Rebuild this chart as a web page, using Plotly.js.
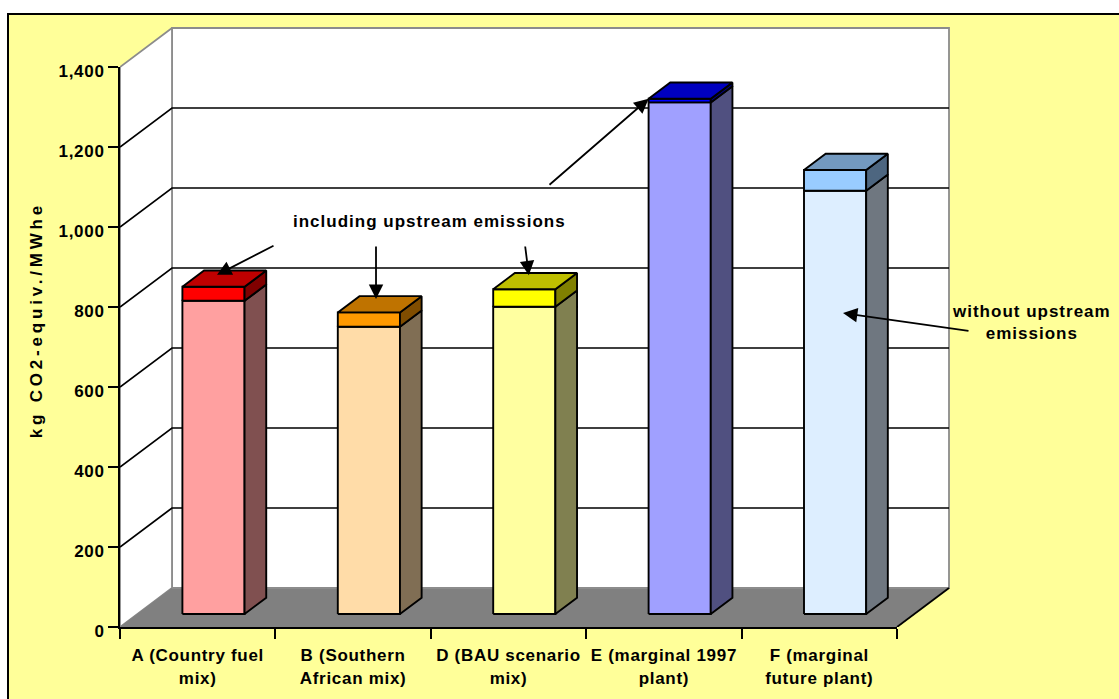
<!DOCTYPE html>
<html>
<head>
<meta charset="utf-8">
<script src="https://cdn.plot.ly/plotly-3.0.1.min.js"></script>
<style>
  html, body { margin: 0; padding: 0; background: #ffffff; }
  #chart { width: 1119px; height: 699px; }
  #chart .xtick text, #chart .ytick text { letter-spacing: 0.7px; }
  #chart .annotation text { letter-spacing: 1px; }
  #chart .annotation[data-index="0"] text { letter-spacing: 3.8px; }
</style>
</head>
<body>
<div id="chart"></div>
<script>
// Emission factors per scenario, kg CO2-equiv./MWhe
const categories = [
  'A (Country fuel<br>mix)',
  'B (Southern<br>African mix)',
  'D (BAU scenario<br>mix)',
  'E (marginal 1997<br>plant)',
  'F (marginal<br>future plant)'
];
const withoutUpstream = [783, 718, 768, 1279, 1058];
const upstreamPart = [35, 36, 44, 9, 52];
const yTickValues = [0, 200, 400, 600, 800, 1000, 1200, 1400];

// Face colours (front) of the two stacked segments
const baseColors = ['#FFA0A0', '#FFDCA8', '#FFFFA0', '#A0A0FF', '#DDEEFF'];
const upstreamColors = ['#FF0000', '#FF9900', '#FFFF00', '#0000FF', '#99CCFF'];

// ---- pseudo-3D frame ----
const W = 1119, H = 699;
const M = { l: 120, r: 159, t: 20, b: 72 };
const plotW = W - M.l - M.r, plotH = H - M.t - M.b;
const PX_PER_CAT = 155.4;          // horizontal size of one category slot
const PX_PER_UNIT = 0.4;           // vertical px per kg
const Y_MAX = 1400;
const N = categories.length;
const DX = 52 / PX_PER_CAT;        // floor depth, in category units
const DY = 39 / PX_PER_UNIT;       // floor depth, in value units
const D0 = 1 / 3, D1 = 0.75;       // depth span of the columns
const BL = 0.29, BR = 0.69;        // column front face inside its slot

const X2_MAX = plotW / PX_PER_CAT;
const Y2_MAX = plotH / PX_PER_UNIT;

function P(x, y, d) { return [x + d * DX, y + d * DY]; }
function fromPx(px, py) { return [(px - M.l) / PX_PER_CAT, (H - M.b - py) / PX_PER_UNIT]; }
function paperPx(px, py) { return [(px - M.l) / plotW, (H - M.b - py) / plotH]; }

function shade(hex, f) {
  const n = parseInt(hex.slice(1), 16);
  const r = Math.round(((n >> 16) & 255) * f);
  const g = Math.round(((n >> 8) & 255) * f);
  const b = Math.round((n & 255) * f);
  return 'rgb(' + r + ',' + g + ',' + b + ')';
}

const traces = [];
function face(pts, fill, lineColor, lineWidth) {
  traces.push({
    type: 'scatter', mode: 'lines', xaxis: 'x2', yaxis: 'y2',
    x: pts.map(p => p[0]).concat([pts[0][0]]),
    y: pts.map(p => p[1]).concat([pts[0][1]]),
    fill: 'toself', fillcolor: fill,
    line: { color: lineColor, width: lineWidth },
    hoverinfo: 'skip', showlegend: false
  });
}
function polyline(segments, color, width) {
  const xs = [], ys = [];
  segments.forEach(seg => {
    seg.forEach(p => { xs.push(p[0]); ys.push(p[1]); });
    xs.push(null); ys.push(null);
  });
  traces.push({
    type: 'scatter', mode: 'lines', xaxis: 'x2', yaxis: 'y2',
    x: xs, y: ys, line: { color: color, width: width },
    hoverinfo: 'skip', showlegend: false, connectgaps: false
  });
}

const WALL_EDGE = '#8C8C8C';
// back wall and side wall
face([P(0, 0, 1), P(N, 0, 1), P(N, Y_MAX, 1), P(0, Y_MAX, 1)], '#FFFFFF', WALL_EDGE, 1.8);
face([P(0, 0, 0), P(0, 0, 1), P(0, Y_MAX, 1), P(0, Y_MAX, 0)], '#FFFFFF', WALL_EDGE, 1.8);
// floor
face([P(0, 0, 0), P(N, 0, 0), P(N, 0, 1), P(0, 0, 1)], '#808080', '#808080', 0.5);
polyline([[P(0, 0, 1), P(N, 0, 1)]], WALL_EDGE, 1.8);
polyline([[P(N, 0, 0), P(N, 0, 1)]], '#000000', 1.8);
// gridlines on the side wall and the back wall
polyline(yTickValues.filter(v => v > 0 && v < Y_MAX)
  .map(v => [P(0, v, 0), P(0, v, 1), P(N, v, 1)]), '#000000', 1.7);

// columns: lower segment without upstream, upper segment upstream part
const OUT = '#000000', OUTW = 1.9;
for (let i = 0; i < N; i++) {
  const x0 = i + BL, x1 = i + BR;
  const v1 = withoutUpstream[i];
  const v2 = withoutUpstream[i] + upstreamPart[i];
  const cb = baseColors[i], cu = upstreamColors[i];
  face([P(x0, 0, D0), P(x1, 0, D0), P(x1, v1, D0), P(x0, v1, D0)], cb, OUT, OUTW);
  face([P(x1, 0, D0), P(x1, 0, D1), P(x1, v1, D1), P(x1, v1, D0)], shade(cb, 0.5), OUT, OUTW);
  face([P(x0, v1, D0), P(x1, v1, D0), P(x1, v2, D0), P(x0, v2, D0)], cu, OUT, OUTW);
  face([P(x1, v1, D0), P(x1, v1, D1), P(x1, v2, D1), P(x1, v2, D0)], shade(cu, 0.5), OUT, OUTW);
  face([P(x0, v2, D0), P(x1, v2, D0), P(x1, v2, D1), P(x0, v2, D1)], shade(cu, 0.75), OUT, OUTW);
}

// carrier for the labelled axes
traces.push({
  type: 'scatter', mode: 'markers', x: [0], y: [0], xaxis: 'x', yaxis: 'y',
  marker: { opacity: 0 }, hoverinfo: 'skip', showlegend: false
});

const FONT = { family: 'Arial, "Liberation Sans", sans-serif', color: '#000000', weight: 'bold' };

// arrows pointing at the column tops (upstream part) and into column F
function topPoint(i, lx, d) {
  const v = withoutUpstream[i] + upstreamPart[i];
  return P(i + lx, v, d);
}
function arrow(head, tailPx) {
  const t = fromPx(tailPx[0], tailPx[1]);
  return {
    x: head[0], y: head[1], xref: 'x2', yref: 'y2',
    ax: t[0], ay: t[1], axref: 'x2', ayref: 'y2',
    text: '', showarrow: true, arrowhead: 2, arrowsize: 1.6,
    arrowwidth: 1.8, arrowcolor: '#000000', standoff: 0
  };
}
const tTitle = paperPx(36, 320);
const tIncl = paperPx(429, 222);
const tWithout = paperPx(1031, 322);

const annotations = [
  {
    x: tTitle[0], y: tTitle[1], xref: 'paper', yref: 'paper', showarrow: false,
    xanchor: 'center', yanchor: 'middle',
    text: 'kg CO2-equiv./MWhe', textangle: -90,
    font: Object.assign({ size: 17 }, FONT)
  },
  {
    x: tIncl[0], y: tIncl[1], xref: 'paper', yref: 'paper', showarrow: false,
    xanchor: 'center', yanchor: 'middle',
    text: 'including upstream emissions', font: Object.assign({ size: 17 }, FONT)
  },
  {
    x: tWithout[0], y: tWithout[1], xref: 'paper', yref: 'paper', showarrow: false,
    xanchor: 'center', yanchor: 'middle',
    text: 'without upstream<br>emissions', align: 'center',
    font: Object.assign({ size: 17 }, FONT)
  },
  arrow(topPoint(0, 0.41, 0.64), [275, 245]),
  arrow(topPoint(1, 0.42, 0.68), [376, 245]),
  arrow(topPoint(2, 0.40, 0.69), [525, 245]),
  arrow(topPoint(3, BL, D0), [548, 186]),
  arrow(fromPx(843, 313), [970, 331])
];

const layout = {
  width: W, height: H,
  margin: M,
  paper_bgcolor: '#FFFFFF',
  plot_bgcolor: 'rgba(0,0,0,0)',
  showlegend: false,
  font: FONT,
  xaxis: {
    domain: [0, N * PX_PER_CAT / plotW], range: [0, N], anchor: 'y',
    tickmode: 'array',
    tickvals: categories.map((c, i) => i + 0.5),
    ticktext: categories,
    ticks: '', showgrid: false, zeroline: false,
    showline: true, linecolor: '#000000', linewidth: 2,
    tickfont: Object.assign({ size: 17 }, FONT),
    ticklabelstandoff: 12,
    minor: { tickmode: 'linear', tick0: 0, dtick: 1, ticks: 'outside', ticklen: 10, tickwidth: 2, tickcolor: '#000000', showgrid: false },
    fixedrange: true
  },
  yaxis: {
    domain: [0, Y_MAX * PX_PER_UNIT / plotH], range: [0, Y_MAX], anchor: 'x',
    tickmode: 'array', tickvals: yTickValues,
    ticktext: yTickValues.map(v => v.toLocaleString('en-US')),
    ticks: 'outside', ticklen: 10, tickwidth: 2, tickcolor: '#000000',
    showline: true, linecolor: '#000000', linewidth: 2,
    showgrid: false, zeroline: false,
    tickfont: Object.assign({ size: 17 }, FONT),
    ticklabelshift: 4,
    fixedrange: true
  },
  xaxis2: { domain: [0, 1], range: [0, X2_MAX], anchor: 'y2', visible: false, fixedrange: true },
  yaxis2: { domain: [0, 1], range: [0, Y2_MAX], anchor: 'x2', visible: false, fixedrange: true },
  shapes: [
    // yellow chart area with black frame
    {
      type: 'rect', xref: 'paper', yref: 'paper', layer: 'below',
      x0: (8 - M.l) / plotW, x1: (W + 10 - M.l) / plotW,
      y0: (H - M.b - (H + 10)) / plotH, y1: (H - M.b - 14) / plotH,
      fillcolor: '#FFFF99', line: { color: '#000000', width: 2 }
    }
  ],
  annotations: annotations
};

Plotly.newPlot('chart', traces, layout, { displayModeBar: false, staticPlot: true });
</script>
</body>
</html>
